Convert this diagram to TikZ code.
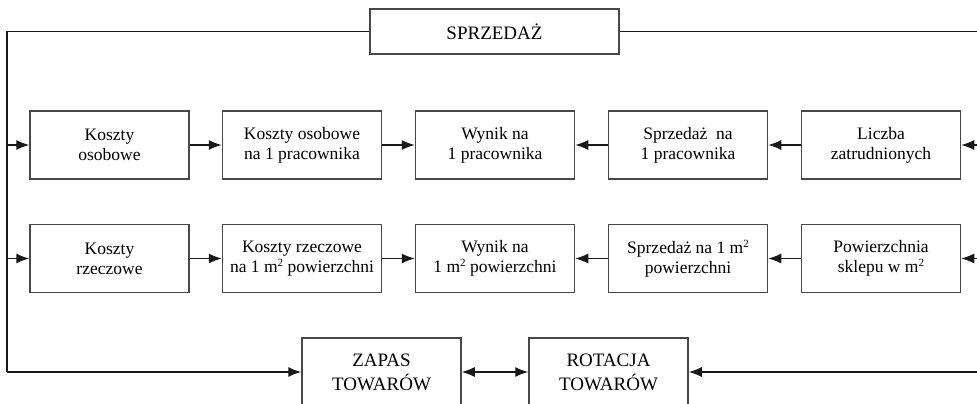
\documentclass[tikz,border=0pt]{standalone}
\usepackage{fontspec}
\setmainfont{Liberation Serif}
\usetikzlibrary{arrows.meta}
\newcommand{\sqm}{\raisebox{0.36em}{\fontsize{11}{11}\selectfont 2}}
\begin{document}
\begin{tikzpicture}[x=1pt,y=-1pt,
  box/.style={draw=black!72, line width=1.5pt, minimum width=159pt, minimum height=68pt,
    inner sep=0pt, align=center, font=\fontsize{17.5}{20}\selectfont},
  capbox/.style={box, font=\fontsize{19}{24}\selectfont},
  conn/.style={draw=black!90, line width=1.3pt},
  arr/.style={conn, -{Latex[length=13pt,width=10pt]}},
  dbl/.style={conn, {Latex[length=13pt,width=10pt]}-{Latex[length=13pt,width=10pt]}}]
\useasboundingbox (0,0) rectangle (977,404);
\clip (0,0) rectangle (977,404);
\fill[white] (0,0) rectangle (977,404);

\node[capbox, minimum width=249pt, minimum height=45pt] (s) at (494.5,31.5) {SPRZEDAŻ};

\node[box] (ko)  at (109.5,145) {Koszty\\osobowe};
\node[box] (kop) at (302,145)   {Koszty osobowe\\na 1 pracownika};
\node[box] (wp)  at (495,145)   {Wynik na\\1 pracownika};
\node[box] (sp)  at (688,145)   {Sprzedaż\ \ na\\1 pracownika};
\node[box] (lz)  at (881,145)   {Liczba\\zatrudnionych};

\node[box] (kr)  at (109.5,258.5) {Koszty\\rzeczowe};
\node[box] (krm) at (302,258.5)   {Koszty rzeczowe\\na 1 m\sqm{} powierzchni};
\node[box] (wm)  at (495,258.5)   {Wynik na\\1 m\sqm{} powierzchni};
\node[box] (sm)  at (688,258.5)   {Sprzedaż na 1 m\sqm\\powierzchni};
\node[box] (pw)  at (881,258.5)   {Powierzchnia\\sklepu w m\sqm};

\node[capbox] (za) at (381.5,372) {ZAPAS\\TOWARÓW};
\node[capbox] (ro) at (608.5,372) {ROTACJA\\TOWARÓW};

\coordinate (ltop) at (7,31.5);
\coordinate (lbot) at (7,372);
\coordinate (rtop) at (985,31.5);

\draw[conn] (s.west) -- (ltop) -- (lbot);
\draw[arr] (lbot) -- (za.west);
\draw[arr] (ltop |- ko.west) -- (ko.west);
\draw[arr] (ltop |- kr.west) -- (kr.west);

\draw[conn] (s.east) -- (rtop);
\draw[arr] (rtop |- lz.east) -- (lz.east);
\draw[arr] (rtop |- pw.east) -- (pw.east);
\draw[arr] (rtop |- ro.east) -- (ro.east);

\draw[arr] (ko.east) -- (kop.west);
\draw[arr] (kop.east) -- (wp.west);
\draw[arr] (sp.west) -- (wp.east);
\draw[arr] (lz.west) -- (sp.east);

\draw[arr] (kr.east) -- (krm.west);
\draw[arr] (krm.east) -- (wm.west);
\draw[arr] (sm.west) -- (wm.east);
\draw[arr] (pw.west) -- (sm.east);

\draw[dbl] (za.east) -- (ro.west);
\end{tikzpicture}
\end{document}
